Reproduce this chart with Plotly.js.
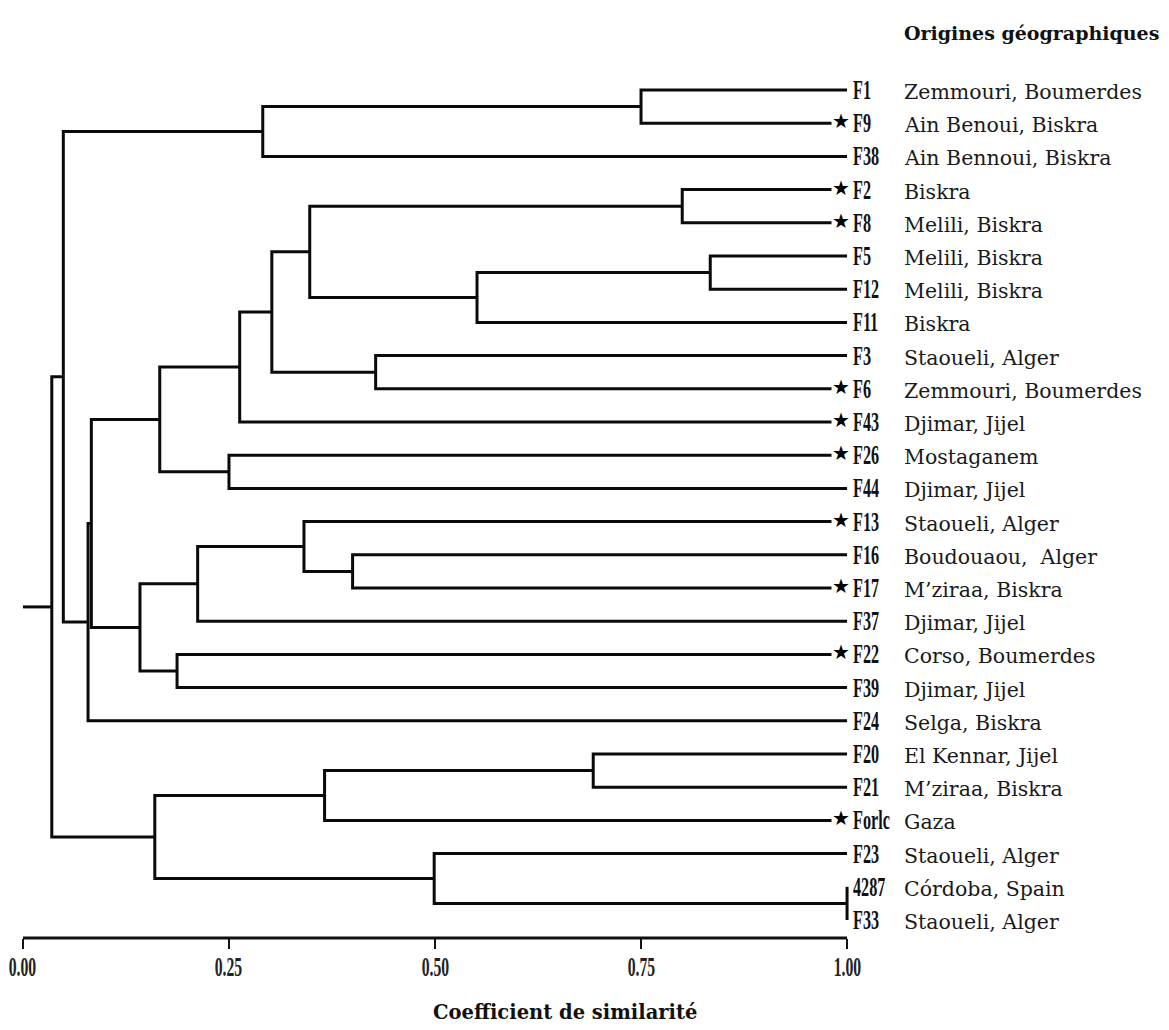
<!DOCTYPE html>
<html><head><meta charset="utf-8">
<script src="https://cdn.plot.ly/plotly-3.0.1.min.js"></script>
<style>html,body{margin:0;padding:0;background:#fff}</style>
</head><body><div id="chart" style="width:1169px;height:1030px"></div>
<script>
// ---- DATA ----
const leaves = ['F1','F9','F38','F2','F8','F5','F12','F11','F3','F6','F43','F26','F44','F13','F16','F17','F37','F22','F39','F24','F20','F21','Forlc','F23','4287','F33'];
const origins = ['Zemmouri, Boumerdes','Ain Benoui, Biskra','Ain Bennoui, Biskra','Biskra','Melili, Biskra','Melili, Biskra','Melili, Biskra','Biskra','Staoueli, Alger','Zemmouri, Boumerdes','Djimar, Jijel','Mostaganem','Djimar, Jijel','Staoueli, Alger','Boudouaou,  Alger','M\u2019ziraa, Biskra','Djimar, Jijel','Corso, Boumerdes','Djimar, Jijel','Selga, Biskra','El Kennar, Jijel','M\u2019ziraa, Biskra','Gaza','Staoueli, Alger','Córdoba, Spain','Staoueli, Alger'];
const starred = ['F9','F2','F8','F6','F43','F26','F13','F17','F22','Forlc'];
// merges (cluster ids m0..m24 in order)
const mergeLeft  = ['F1','m0','F2','F5','m3','m2','F3','m5','m7','F26','m8','F16','F13','m12','F22','m13','m10','m16','m1','F20','m19','4287','F23','m20','m18'];
const mergeRight = ['F9','F38','F8','F12','F11','m4','F6','m6','F43','F44','m9','F17','m11','F37','F39','m14','m15','F24','m17','F21','Forlc','F33','m21','m22','m23'];
const mergeSim   = [0.750,0.291,0.800,0.834,0.551,0.348,0.428,0.302,0.263,0.250,0.166,0.400,0.341,0.212,0.187,0.142,0.083,0.079,0.049,0.692,0.366,1.000,0.499,0.160,0.035];
const rootSim = 0.0;
const tickVals = [0, 0.25, 0.5, 0.75, 1.0];
const tickText = ['0.00','0.25','0.50','0.75','1.00'];
const xTitle = 'Coefficient de similarité';
const originTitle = 'Origines géographiques';

// ---- build dendrogram paths ----
const pos = {};
leaves.forEach((n,i)=>{ pos[n] = {x:1.0, y:i}; });
const xs = [], ys = [];
mergeSim.forEach((s,k)=>{
  const a = pos[mergeLeft[k]], b = pos[mergeRight[k]];
  xs.push(a.x, s, s, b.x, null);
  ys.push(a.y, a.y, b.y, b.y, null);
  pos['m'+k] = {x:s, y:(a.y+b.y)/2};
});
const rootNode = pos['m'+(mergeSim.length-1)];
xs.push(rootNode.x, rootSim, null); ys.push(rootNode.y, rootNode.y, null);

const trace = {x:xs, y:ys, mode:'lines', type:'scatter', line:{color:'#0a0a0a', width:3}, hoverinfo:'skip', connectgaps:false};

const annotations = [];
const squeeze = {}; // annotation index -> [scale, origin]
leaves.forEach((n,i)=>{
  squeeze[annotations.length] = [0.6, '0% 50%'];
  annotations.push({x:1, y:i, xref:'x', yref:'y', text:'<b>'+n+'</b>', showarrow:false, xanchor:'left', yanchor:'middle', xshift:4, yshift:0,
    font:{family:'Liberation Serif', size:27, color:'#111'}});
});
leaves.forEach((n,i)=>{
  annotations.push({x:1, y:i, xref:'x', yref:'y', text:origins[i], showarrow:false, xanchor:'left', yanchor:'middle', xshift:55, yshift:-2,
    font:{family:'DejaVu Serif', size:20.5, color:'#1a1a1a'}});
});
leaves.forEach((n,i)=>{
  if (starred.includes(n)) annotations.push({x:1, y:i, xref:'x', yref:'y', text:'\u2605', showarrow:false, xanchor:'center', yanchor:'middle', xshift:-6, yshift:2,
    bgcolor:'#ffffff', borderpad:0, font:{family:'DejaVu Sans', size:20, color:'#000'}});
});
tickVals.forEach((v,i)=>{
  squeeze[annotations.length] = [0.56, '50% 50%'];
  annotations.push({x:v, xref:'x', y:-0.033, yref:'paper', xanchor:'center', yanchor:'middle', text:'<b>'+tickText[i]+'</b>', showarrow:false,
    font:{family:'Liberation Serif', size:28, color:'#222'}});
});
annotations.push({x:1, xref:'x', xshift:55, xanchor:'left', y:1.031, yref:'paper', yanchor:'middle', text:'<b>'+originTitle+'</b>', showarrow:false,
  font:{family:'DejaVu Serif', size:19, color:'#111'}});
annotations.push({x:0.658, xref:'x', xanchor:'center', y:-0.085, yref:'paper', yanchor:'middle', text:'<b>'+xTitle+'</b>', showarrow:false,
  font:{family:'DejaVu Serif', size:19.5, color:'#111'}});

const layout = {
  width:1169, height:1030,
  margin:{l:18, r:317, t:60, b:92},
  paper_bgcolor:'#ffffff', plot_bgcolor:'#ffffff',
  showlegend:false,
  xaxis:{range:[-0.006,1.006], showgrid:false, zeroline:false, showline:false,
    ticks:'outside', ticklen:10, tickwidth:2, tickcolor:'#111',
    tickvals:tickVals, ticktext:tickText, showticklabels:false},
  yaxis:{range:[25.542,-0.904], visible:false, showgrid:false, zeroline:false},
  shapes:[{type:'line', xref:'x', yref:'paper', x0:0, x1:1, y0:0, y1:0, line:{color:'#111', width:3}}],
  annotations:annotations
};

Plotly.newPlot('chart',[trace],layout,{displayModeBar:false, staticPlot:true}).then(()=>{
  document.querySelectorAll('g.annotation').forEach(g=>{
    const idx = +g.getAttribute('data-index');
    if (squeeze[idx]) {
      const t = g.querySelector('text');
      t.style.transformBox='fill-box'; t.style.transformOrigin=squeeze[idx][1]; t.style.transform='scaleX('+squeeze[idx][0]+')';
    }
  });
});
</script></body></html>
